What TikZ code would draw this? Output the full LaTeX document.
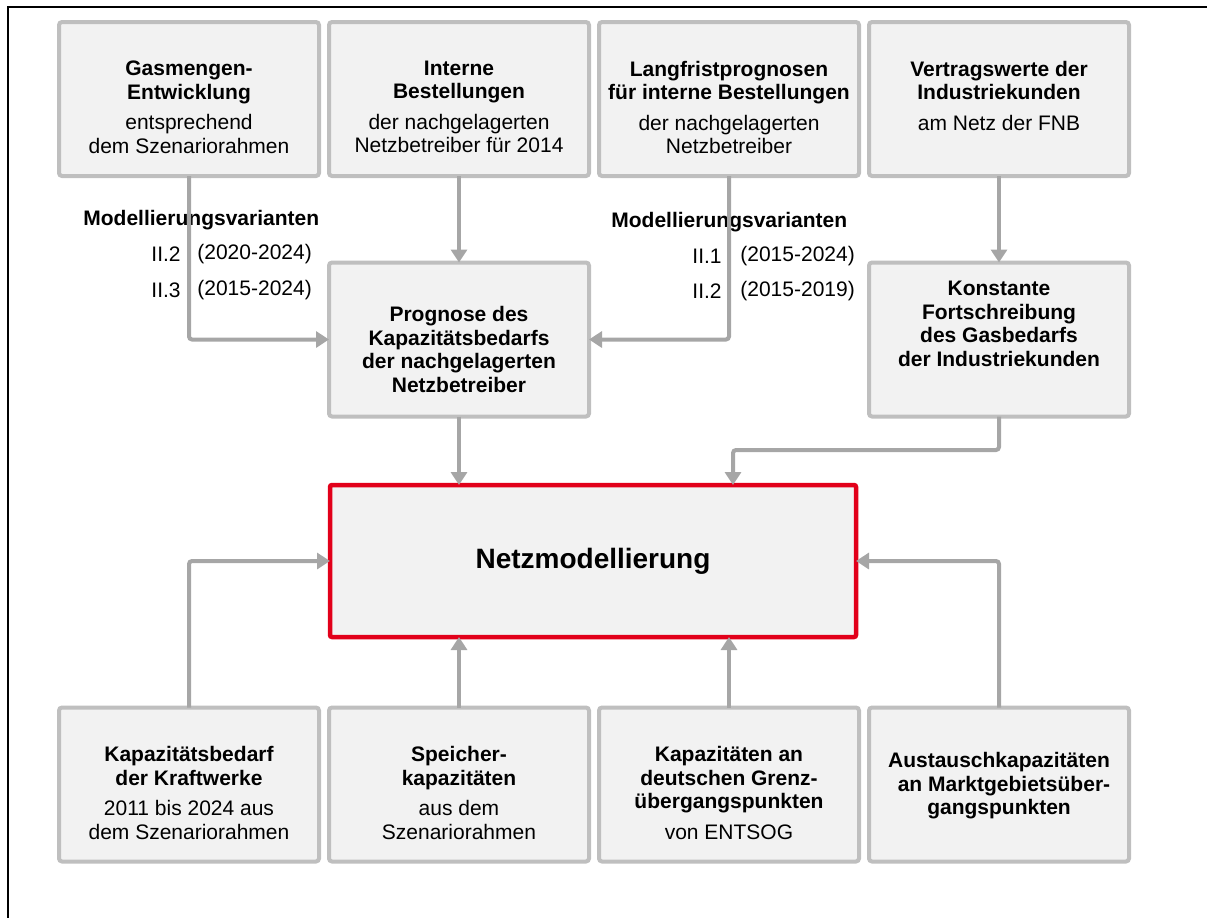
\documentclass[tikz,border=0pt]{standalone}
\usepackage{fontspec}
\setmainfont{Liberation Sans}
\usepackage{xcolor}
\usetikzlibrary{arrows.meta}

\definecolor{rahmen}{HTML}{BFBFBF}
\definecolor{fuell}{HTML}{F2F2F2}
\definecolor{pfeilgrau}{HTML}{A6A6A6}
\definecolor{netzrot}{HTML}{E2001A}

\tikzset{
  box/.style={draw=rahmen,fill=fuell,line width=2pt,rounded corners=1.5pt,inner sep=0pt,outer sep=0pt},
  netzbox/.style={draw=netzrot,fill=fuell,line width=2.25pt,rounded corners=1pt,minimum width=263pt,minimum height=76pt,inner sep=0pt,outer sep=0pt,font=\fontsize{14}{16}\selectfont\bfseries},
  arr/.style={draw=pfeilgrau,line width=2pt,rounded corners=1.5pt,-{Triangle[width=8pt,length=6.5pt]}},
  var/.style={inner sep=0pt,font=\fontsize{10.5}{12}\selectfont}
}

% Kasteninhalt: fetter Titel, darunter normaler Text
\newcommand{\boxtext}[3][19.5pt]{%
  \begin{minipage}[c][77pt][t]{130pt}\centering
  \fontsize{10.5}{11.75}\selectfont
  \vspace*{#1}\textbf{#2}\par\vspace{3.5pt}#3\par
  \end{minipage}}

\begin{document}
\begin{tikzpicture}[x=0.5pt,y=-0.5pt]
\useasboundingbox (0,0) rectangle (1207,918);
\draw[line width=1pt] (1207,7) -- (8,7) -- (8,918);
%
\node[box] (gas) at (189,99) {\boxtext{Gasmengen-\\Entwicklung}{entsprechend\\dem Szenariorahmen}};
\node[box] (int) at (459,99) {\boxtext{Interne\\Bestellungen}{der nachgelagerten\\Netzbetreiber für 2014}};
\node[box] (lang) at (729,99) {\boxtext{Langfristprognosen\\für interne Bestellungen}{der nachgelagerten\\Netzbetreiber}};
\node[box] (vert) at (999,99) {\boxtext{Vertragswerte der\\Industriekunden}{am Netz der FNB}};
%
\node[box] (prog) at (459,339.5) {\boxtext[22pt]{Prognose des\\Kapazitätsbedarfs\\der nachgelagerten\\Netzbetreiber}{}};
\node[box] (kon) at (999,339.5) {\boxtext[9.5pt]{Konstante\\Fortschreibung\\des Gasbedarfs\\der Industriekunden}{}};
\node[netzbox] (netz) at (593,561) {Netzmodellierung};
%
\node[box] (kraft) at (189,784.5) {\boxtext{Kapazitätsbedarf\\der Kraftwerke}{2011 bis 2024 aus\\dem Szenariorahmen}};
\node[box] (speich) at (459,784.5) {\boxtext{Speicher-\\kapazitäten}{aus dem\\Szenariorahmen}};
\node[box] (grenz) at (729,784.5) {\boxtext{Kapazitäten an\\deutschen Grenz-\\übergangspunkten}{von ENTSOG}};
\node[box] (aus) at (999,784.5) {\boxtext[22.5pt]{Austauschkapazitäten\\\hspace*{5pt}an Marktgebietsüber-\\gangspunkten}{}};
%
\node[var,anchor=west,font=\fontsize{10.5}{12}\selectfont\bfseries] (mvl) at (83,220) {Modellierungsvarianten};
\node[var,anchor=east] (mvl1) at (181,254) {II.2};
\node[var,anchor=west] (jl1) at (197,254) {(2020-2024)};
\node[var,anchor=east] (mvl2) at (181,290) {II.3};
\node[var,anchor=west] (jl2) at (197,290) {(2015-2024)};
\node[var,anchor=west,font=\fontsize{10.5}{12}\selectfont\bfseries] (mvr) at (611,222) {Modellierungsvarianten};
\node[var,anchor=east] (mvr1) at (722,256) {II.1};
\node[var,anchor=west] (jr1) at (740,256) {(2015-2024)};
\node[var,anchor=east] (mvr2) at (722,291) {II.2};
\node[var,anchor=west] (jr2) at (740,291) {(2015-2019)};
%
\draw[arr] (gas.south) |- (prog.west);
\draw[arr] (int.south) -- (prog.north);
\draw[arr] (lang.south) |- (prog.east);
\draw[arr] (vert.south) -- (kon.north);
\draw[arr] (prog.south) -- (prog.south |- netz.north);
\coordinate (knick) at (733,450);
\draw[arr] (kon.south) |- (knick) -- (knick |- netz.north);
\draw[arr] (kraft.north) |- (netz.west);
\draw[arr] (speich.north) -- (speich.north |- netz.south);
\draw[arr] (grenz.north) -- (grenz.north |- netz.south);
\draw[arr] (aus.north) |- (netz.east);
\end{tikzpicture}
\end{document}
